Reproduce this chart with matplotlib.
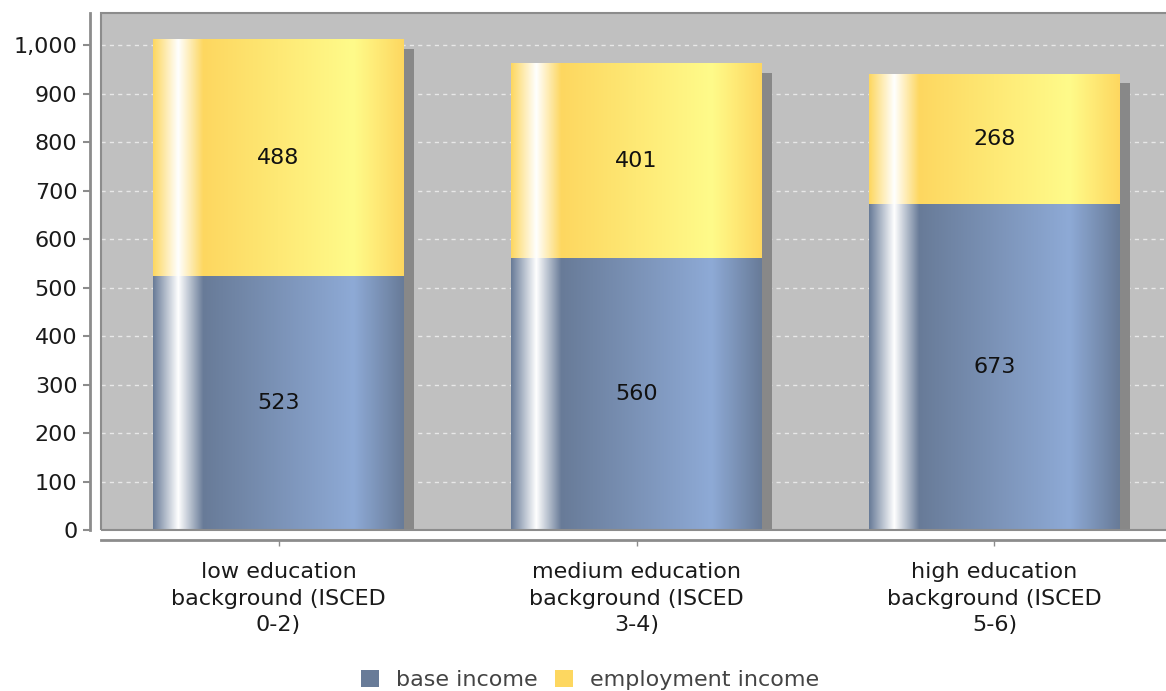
import numpy as np
import matplotlib
matplotlib.use('Agg')
import matplotlib.pyplot as plt
import matplotlib.transforms as mtransforms
from matplotlib.colors import to_rgb
from matplotlib.patches import Patch, Rectangle
from matplotlib.ticker import FuncFormatter, MultipleLocator

categories = ["low education\nbackground (ISCED\n0-2)",
              "medium education\nbackground (ISCED\n3-4)",
              "high education\nbackground (ISCED\n5-6)"]
base_income = [523, 560, 673]
employment_income = [488, 401, 268]
series_names = ["base income", "employment income"]

BLUE_DARK, BLUE_LIGHT = '#687b98', '#8eaad6'
YEL_DARK, YEL_LIGHT = '#fdd760', '#fffb8a'


def gradient_row(c0, c1, n=400):
    # jfreechart-style gradient: highlight at 10%, light at 80%
    c0 = np.array(to_rgb(c0)); c1 = np.array(to_rgb(c1)); w = np.ones(3)
    row = []
    for t in np.linspace(0, 1, n):
        if t < 0.1:
            c = c0 + (w - c0) * (t / 0.1)
        elif t < 0.2:
            c = w + (c0 - w) * ((t - 0.1) / 0.1)
        elif t < 0.8:
            c = c0 + (c1 - c0) * ((t - 0.2) / 0.6)
        else:
            c = c1 + (c0 - c1) * ((t - 0.8) / 0.2)
        row.append(c)
    return np.array(row)[None, :, :]


W, H = 1166, 691
FS = 16
fig = plt.figure(figsize=(W / 100, H / 100), dpi=100)
ax = fig.add_axes([101 / W, (H - 530) / H, 1071 / W, 517 / H])
ax.set_facecolor('#c0c0c0')

x = np.arange(len(categories))
width = 0.70

ax.yaxis.set_major_locator(MultipleLocator(100))
ax.yaxis.set_major_formatter(FuncFormatter(lambda v, p: f"{int(v):,}"))
ax.grid(axis='y', color='#e8e8e8', linestyle=(0, (3, 3)), linewidth=1.0)
ax.set_axisbelow(True)

shadow_tr = mtransforms.offset_copy(ax.transData, fig=fig, x=10, y=-9, units='dots')
totals = [b + e for b, e in zip(base_income, employment_income)]
ax.bar(x, totals, width, color='#888888', transform=shadow_tr, zorder=1.5, linewidth=0)

bars_b = ax.bar(x, base_income, width, color='none', linewidth=0, zorder=3)
bars_e = ax.bar(x, employment_income, width, bottom=base_income, color='none', linewidth=0, zorder=3)

for bars, c0, c1, vals in [(bars_b, BLUE_DARK, BLUE_LIGHT, base_income),
                           (bars_e, YEL_DARK, YEL_LIGHT, employment_income)]:
    img = gradient_row(c0, c1)
    for r, v in zip(bars, vals):
        x0, y0 = r.get_x(), r.get_y()
        ax.imshow(img, extent=(x0, x0 + r.get_width(), y0, y0 + r.get_height()),
                  aspect='auto', zorder=2, interpolation='bilinear')
        ax.text(x0 + r.get_width() / 2, y0 + r.get_height() / 2, str(v),
                ha='center', va='center', fontsize=FS, color='#111111', zorder=4)

ax.set_xlim(-0.496, 2.496)
ax.set_ylim(0, 1066)

# plot-area frame drawn on top of the bars
ax.add_patch(Rectangle((0, 0), 1, 1, transform=ax.transAxes, fill=False,
                       edgecolor='#8c8c8c', linewidth=1.5, zorder=6, clip_on=False))

for s in ['top', 'right']:
    ax.spines[s].set_visible(False)
ax.spines['left'].set_position(('outward', 8))
ax.spines['bottom'].set_position(('outward', 7))
for s in ['left', 'bottom']:
    ax.spines[s].set_color('#8c8c8c')
    ax.spines[s].set_linewidth(2)

ax.set_xticks(x)
ax.set_xticklabels(categories, fontsize=FS, color='#1a1a1a', linespacing=1.42)
ax.tick_params(axis='x', length=4, width=1, color='#8c8c8c', pad=12)
ax.tick_params(axis='y', length=5, width=1.5, color='#8c8c8c', pad=4,
               labelsize=FS, labelcolor='#1a1a1a')

handles = [Patch(facecolor=BLUE_DARK, edgecolor='none'),
           Patch(facecolor=YEL_DARK, edgecolor='none')]
fig.legend(handles, series_names, loc='center', bbox_to_anchor=(0.506, 0.016),
           ncol=2, frameon=False, fontsize=FS, handlelength=0.8, handleheight=0.8,
           handletextpad=0.75, columnspacing=0.8, labelcolor='#444444')

fig.savefig('out.png', dpi=100)
